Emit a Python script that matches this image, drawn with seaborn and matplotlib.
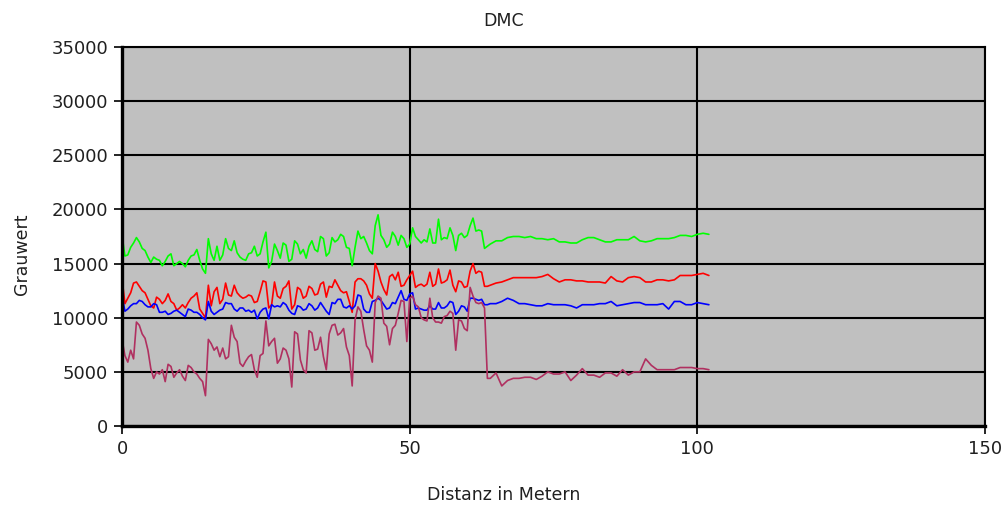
import numpy as np
import pandas as pd
import matplotlib
matplotlib.use("Agg")
import matplotlib.pyplot as plt
import seaborn as sns

# Sample positions along the profile (metres): dense in the first part, 1 m later on
distance_near = np.arange(0, 64, 0.5)
distance_far = np.arange(64, 103, 1.0)
distance = np.concatenate([distance_near, distance_far])

green_values = [
    17600, 15700, 15800, 16500, 16900, 17400, 17000, 16400, 16200, 15600,
    15100, 15600, 15400, 15300, 14800, 15200, 15700, 15900, 14800, 15000,
    15200, 15000, 14700, 15300, 15700, 15800, 16300, 15300, 14500, 14100,
    17300, 15900, 15300, 16600, 15300, 15800, 17300, 16400, 16200, 17100,
    16000, 15600, 15400, 15300, 15900, 16000, 16600, 15700, 15900, 17000,
    17900, 14600, 15200, 16800, 16200, 15500, 16900, 16700, 15200, 15400,
    17100, 16800, 15900, 16300, 15500, 16600, 17100, 16300, 16100, 17500,
    17300, 15700, 16000, 17400, 17000, 17200, 17700, 17500, 16500, 16400,
    14800, 16500, 18000, 17300, 17500, 16900, 16200, 15900, 18500, 19500,
    17600, 17200, 16500, 16800, 17900, 17500, 16700, 17600, 17300, 16500,
    16800, 18300, 17500, 17200, 16900, 17200, 17000, 18200, 16900, 16900,
    19100, 17200, 17400, 17300, 18300, 17600, 16200, 17600, 17800, 17400,
    17600, 18500, 19200, 18000, 18100, 18000, 16400, 16600,
    16800, 17100, 17100, 17400, 17500, 17500, 17400, 17500, 17300, 17300,
    17200, 17300, 17000, 17000, 16900, 16900, 17200, 17400, 17400, 17200,
    17000, 17000, 17200, 17200, 17200, 17500, 17100, 17000, 17100, 17300,
    17300, 17300, 17400, 17600, 17600, 17500, 17700, 17800, 17700,
]

red_values = [
    13600, 11300, 11800, 12300, 13200, 13300, 12900, 12500, 12300, 11700,
    11100, 10900, 11900, 11700, 11300, 11600, 12200, 11500, 11300, 10700,
    10900, 11200, 10900, 11400, 11800, 12000, 12300, 10800, 10400, 10000,
    13000, 11100, 12400, 12800, 11300, 11700, 13200, 12100, 12000, 13000,
    12300, 12000, 11800, 11900, 12100, 12000, 11400, 11500, 12400, 13400,
    13300, 10900, 11200, 13300, 12000, 11800, 12700, 12900, 13400, 10800,
    11200, 12800, 12600, 11800, 12000, 12900, 12700, 12100, 12200, 13100,
    13300, 11900, 12900, 12800, 13500, 13000, 12500, 12300, 12400, 11500,
    10500, 13300, 13600, 13600, 13400, 13000, 12200, 11800, 15000, 14300,
    13300, 12600, 12100, 13800, 14000, 13500, 14200, 12900, 13000, 13500,
    13900, 14300, 12800, 13000, 13100, 12900, 13100, 14200, 12900, 13100,
    14500, 13200, 13300, 13500, 14400, 13000, 12400, 13400, 13300, 12800,
    12900, 14300, 15000, 14100, 14300, 14200, 12900, 12900,
    13000, 13200, 13300, 13500, 13700, 13700, 13700, 13700, 13700, 13800,
    14000, 13600, 13300, 13500, 13500, 13400, 13400, 13300, 13300, 13300,
    13200, 13800, 13400, 13300, 13700, 13800, 13700, 13300, 13300, 13500,
    13500, 13400, 13500, 13900, 13900, 13900, 14000, 14100, 13900,
]

blue_values = [
    12000, 10600, 10800, 11100, 11300, 11300, 11600, 11500, 11200, 11000,
    11000, 11300, 11200, 10500, 10500, 10600, 10300, 10400, 10600, 10700,
    10500, 10300, 10100, 10800, 10700, 10500, 10500, 10300, 10000, 9800,
    11500, 10600, 10300, 10500, 10700, 10800, 11400, 11300, 11300, 10800,
    10600, 10900, 10900, 10600, 10700, 10500, 10700, 9900, 10500, 10800,
    10900, 9900, 11200, 11000, 11100, 11000, 11400, 11200, 10700, 10400,
    10300, 11100, 11000, 10700, 10800, 11300, 11100, 10700, 10900, 11400,
    11000, 10600, 10300, 11400, 11300, 11700, 11700, 11000, 10900, 11100,
    10800, 11100, 12100, 12000, 10800, 10500, 10500, 11500, 11600, 11800,
    11600, 11200, 10800, 10900, 11400, 11300, 11900, 12500, 11700, 11600,
    12200, 12300, 10800, 10900, 10800, 10700, 10700, 11100, 10800, 10800,
    11400, 10900, 10900, 11100, 11500, 11400, 10300, 10600, 11100, 11000,
    10600, 11800, 11800, 11700, 11600, 11700, 11200, 11200,
    11300, 11300, 11500, 11800, 11600, 11300, 11300, 11200, 11100, 11100,
    11300, 11200, 11200, 11200, 11100, 10900, 11200, 11200, 11200, 11300,
    11300, 11500, 11100, 11200, 11300, 11400, 11400, 11200, 11200, 11200,
    11300, 10800, 11500, 11500, 11200, 11200, 11400, 11300, 11200,
]

maroon_values = [
    8000, 6500, 5900, 7000, 6200, 9600, 9300, 8500, 8100, 7000,
    5300, 4400, 5000, 4800, 5200, 4100, 5700, 5500, 4500, 4900,
    5200, 4600, 4200, 5600, 5400, 5000, 4800, 4400, 4100, 2800,
    8000, 7600, 7000, 7300, 6400, 7200, 6200, 6400, 9300, 8200,
    7800, 5800, 5500, 6000, 6400, 6600, 5200, 4500, 6500, 6700,
    9700, 7400, 7800, 8100, 5800, 6200, 7200, 7000, 6200, 3600,
    8700, 8500, 6100, 5200, 4900, 8800, 8600, 7000, 7100, 8200,
    6400, 5200, 8500, 9300, 9400, 8400, 8600, 9000, 7300, 6500,
    3700, 9800, 11000, 10600, 8900, 7400, 7000, 5900, 11400, 12000,
    11800, 9500, 9200, 7500, 9000, 9300, 10400, 11600, 11500, 7800,
    11800, 12000, 11200, 11000, 10000, 9800, 9700, 11800, 10000, 9600,
    9600, 9500, 10100, 10200, 10600, 10400, 7000, 9800, 9700, 9000,
    8800, 12800, 12000, 11400, 11300, 11400, 10900, 4400,
    4400, 4900, 3700, 4200, 4400, 4400, 4500, 4500, 4300, 4600,
    5000, 4800, 4800, 5000, 4200, 4700, 5300, 4700, 4700, 4500,
    4900, 4900, 4600, 5200, 4700, 5000, 5000, 6200, 5600, 5200,
    5200, 5200, 5200, 5400, 5400, 5400, 5300, 5300, 5200,
]

series_names = ["Kanal 1", "Kanal 2", "Kanal 3", "Kanal 4"]
series_colors = ["#00FF00", "#FF0000", "#0000FF", "#B03060"]

x_ticks = [0, 50, 100, 150]
y_ticks = [0, 5000, 10000, 15000, 20000, 25000, 30000, 35000]

frames = []
for name, vals in zip(series_names, [green_values, red_values, blue_values, maroon_values]):
    frames.append(pd.DataFrame({"Distanz": distance, "Grauwert": vals, "Kanal": name}))
data = pd.concat(frames, ignore_index=True)

sns.set_theme(style="white")
plt.rcParams["font.family"] = ["DejaVu Sans"]

fig = plt.figure(figsize=(10.07, 5.08), dpi=100)
ax = fig.add_axes([0.1212, 0.1614, 0.8570, 0.7461])
ax.set_facecolor("#C0C0C0")

sns.lineplot(
    data=data, x="Distanz", y="Grauwert", hue="Kanal",
    hue_order=series_names, palette=series_colors,
    estimator=None, sort=False, linewidth=1.2, legend=False, ax=ax,
)

ax.set_xlim(0, 150)
ax.set_ylim(0, 35000)
ax.set_xticks(x_ticks)
ax.set_yticks(y_ticks)
ax.set_xticklabels([str(t) for t in x_ticks])
ax.set_yticklabels([str(t) for t in y_ticks])
ax.grid(True, color="black", linewidth=1.5)
ax.set_axisbelow(True)

for side in ["top", "right"]:
    ax.spines[side].set_color("black")
    ax.spines[side].set_linewidth(1.5)
for side in ["left", "bottom"]:
    ax.spines[side].set_color("black")
    ax.spines[side].set_linewidth(2.4)

ax.tick_params(axis="both", which="major", direction="out", length=6, width=1.2,
               color="black", labelsize=13, labelcolor="#202020", pad=4)
ax.tick_params(left=True, bottom=True)

ax.set_xlabel("")
ax.set_ylabel("")
fig.text(0.5, 0.958, "DMC", ha="center", va="center", fontsize=12.5, color="#202020")
fig.text(0.5, 0.025, "Distanz in Metern", ha="center", va="center", fontsize=12.5, color="#202020")
fig.text(0.022, 0.50, "Grauwert", ha="center", va="center", rotation=90, fontsize=12.5, color="#202020")

fig.savefig("out.png", dpi=100)
